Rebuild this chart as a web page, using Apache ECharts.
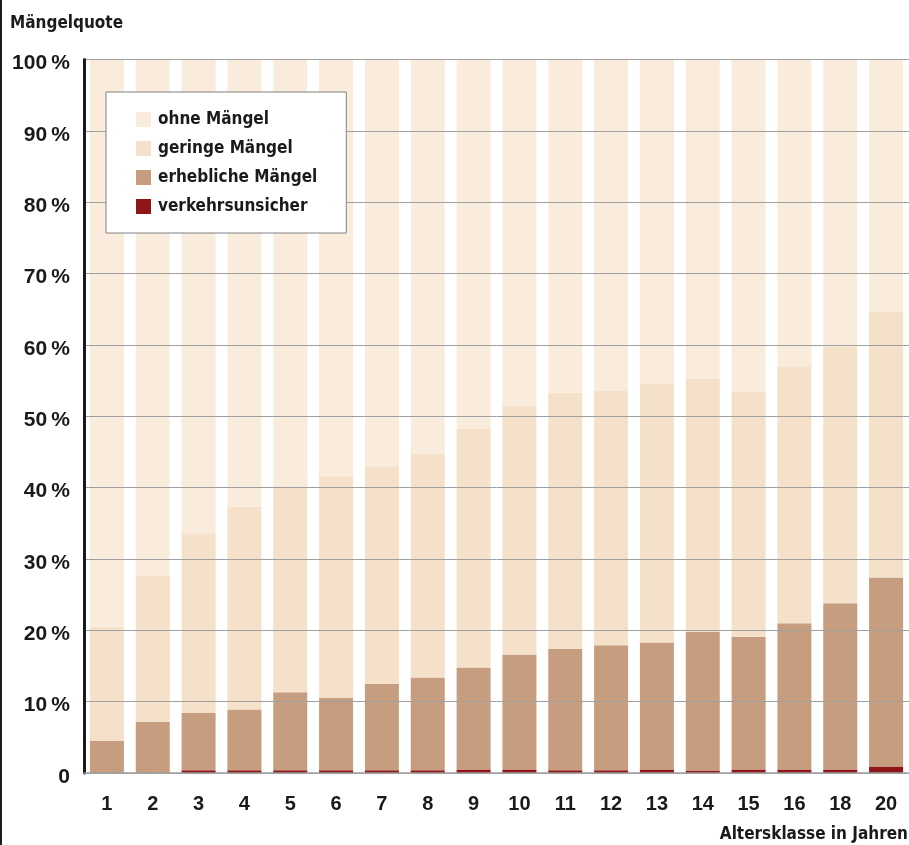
<!DOCTYPE html>
<html>
<head>
<meta charset="utf-8">
<script src="https://cdn.jsdelivr.net/npm/echarts@6/dist/echarts.min.js"></script>
<style>
  html, body { margin: 0; padding: 0; background: #fff; overflow: hidden; }
  #chart { width: 909px; height: 845px; }
</style>
</head>
<body>
<div id="chart"></div>
<script>
// Altersklassen
const categories = ['1', '2', '3', '4', '5', '6', '7', '8', '9', '10', '11', '12', '13', '14', '15', '16', '18', '20']

// Anteile in Prozent (je Stapel = 100)
const verkehrsunsicher = [0, 0, 0.4, 0.4, 0.4, 0.4, 0.4, 0.4, 0.5, 0.5, 0.4, 0.4, 0.5, 0.35, 0.5, 0.5, 0.5, 0.9]
const erheblicheMaengel = [4.5, 7.2, 8.0, 8.5, 10.9, 10.1, 12.1, 13.0, 14.3, 16.1, 17.0, 17.5, 17.8, 19.45, 18.6, 20.5, 23.3, 26.5]
const geringeMaengel = [16.0, 20.4, 25.2, 28.4, 28.9, 31.1, 30.5, 31.3, 33.4, 34.9, 35.9, 35.7, 36.3, 35.5, 34.3, 36.0, 36.0, 37.2]
const ohneMaengel = [79.5, 72.4, 66.4, 62.7, 59.8, 58.4, 57.0, 55.3, 51.8, 48.5, 46.7, 46.4, 45.4, 44.7, 46.6, 43.0, 40.2, 35.4]

const yTicks = [0, 10, 20, 30, 40, 50, 60, 70, 80, 90, 100]

const condensed = '"DejaVu Sans Condensed", "Liberation Sans Narrow", sans-serif'
const wide = '"Liberation Sans", Arial, sans-serif'

const myChart = echarts.init(document.getElementById('chart'))

function bar(name, data, color) {
  return {
    name: name,
    type: 'bar',
    stack: 'total',
    barWidth: 34,
    data: data,
    itemStyle: { color: color },
    emphasis: { disabled: true }
  }
}

myChart.setOption({
  animation: false,
  grid: { left: 84, right: -4, top: 59.5, bottom: 72 },
  title: {
    text: 'Mängelquote',
    left: 10,
    top: 15,
    padding: 0,
    textStyle: { fontFamily: condensed, fontWeight: 'bold', fontSize: 17, color: '#1a1a1a' }
  },
  legend: {
    orient: 'vertical',
    left: 106,
    top: 92,
    padding: [19, 29, 18, 30],
    backgroundColor: '#fff',
    borderColor: '#808080',
    borderWidth: 1,
    itemWidth: 15,
    itemHeight: 15,
    itemGap: 12,
    icon: 'rect',
    data: ['ohne Mängel', 'geringe Mängel', 'erhebliche Mängel', 'verkehrsunsicher'],
    textStyle: { fontFamily: condensed, fontWeight: 'bold', fontSize: 17, color: '#1a1a1a', padding: [0, 0, 0, 2] },
    z: 10
  },
  graphic: [{
    type: 'rect',
    shape: { x: 0, y: 0, width: 2, height: 845 },
    style: { fill: '#1a1a1a' }
  }, {
    type: 'text',
    right: 1,
    top: 826,
    style: {
      text: 'Altersklasse in Jahren',
      font: 'bold 17px ' + condensed,
      fill: '#1a1a1a'
    }
  }],
  xAxis: {
    type: 'category',
    data: categories,
    axisLine: { show: true, lineStyle: { color: '#a0a0a0', width: 1.5 } },
    axisTick: { show: false },
    axisLabel: { margin: 21, fontFamily: wide, fontWeight: 'bold', fontSize: 20, color: '#1a1a1a' },
    z: 3
  },
  yAxis: {
    type: 'value',
    min: 0,
    max: 100,
    interval: 10,
    axisLine: { show: true, lineStyle: { color: '#1a1a1a', width: 3 } },
    axisTick: { show: false },
    axisLabel: {
      margin: 14,
      color: '#1a1a1a',
      formatter: v => yTicks.includes(v) ? '{t|' + (v === 0 ? '0' : v + '\u2009%') + '}' : '',
      rich: {
        t: { fontFamily: wide, fontWeight: 'bold', fontSize: 21, color: '#1a1a1a', padding: [8, 0, 0, 0] }
      }
    },
    splitLine: { show: true, lineStyle: { color: '#a0a0a0', width: 1 } },
    z: 3
  },
  series: [
    bar('verkehrsunsicher', verkehrsunsicher, '#8f1519'),
    bar('erhebliche Mängel', erheblicheMaengel, '#c69e7f'),
    bar('geringe Mängel', geringeMaengel, '#f5e1c9'),
    bar('ohne Mängel', ohneMaengel, '#faecdc')
  ]
})
</script>
</body>
</html>
